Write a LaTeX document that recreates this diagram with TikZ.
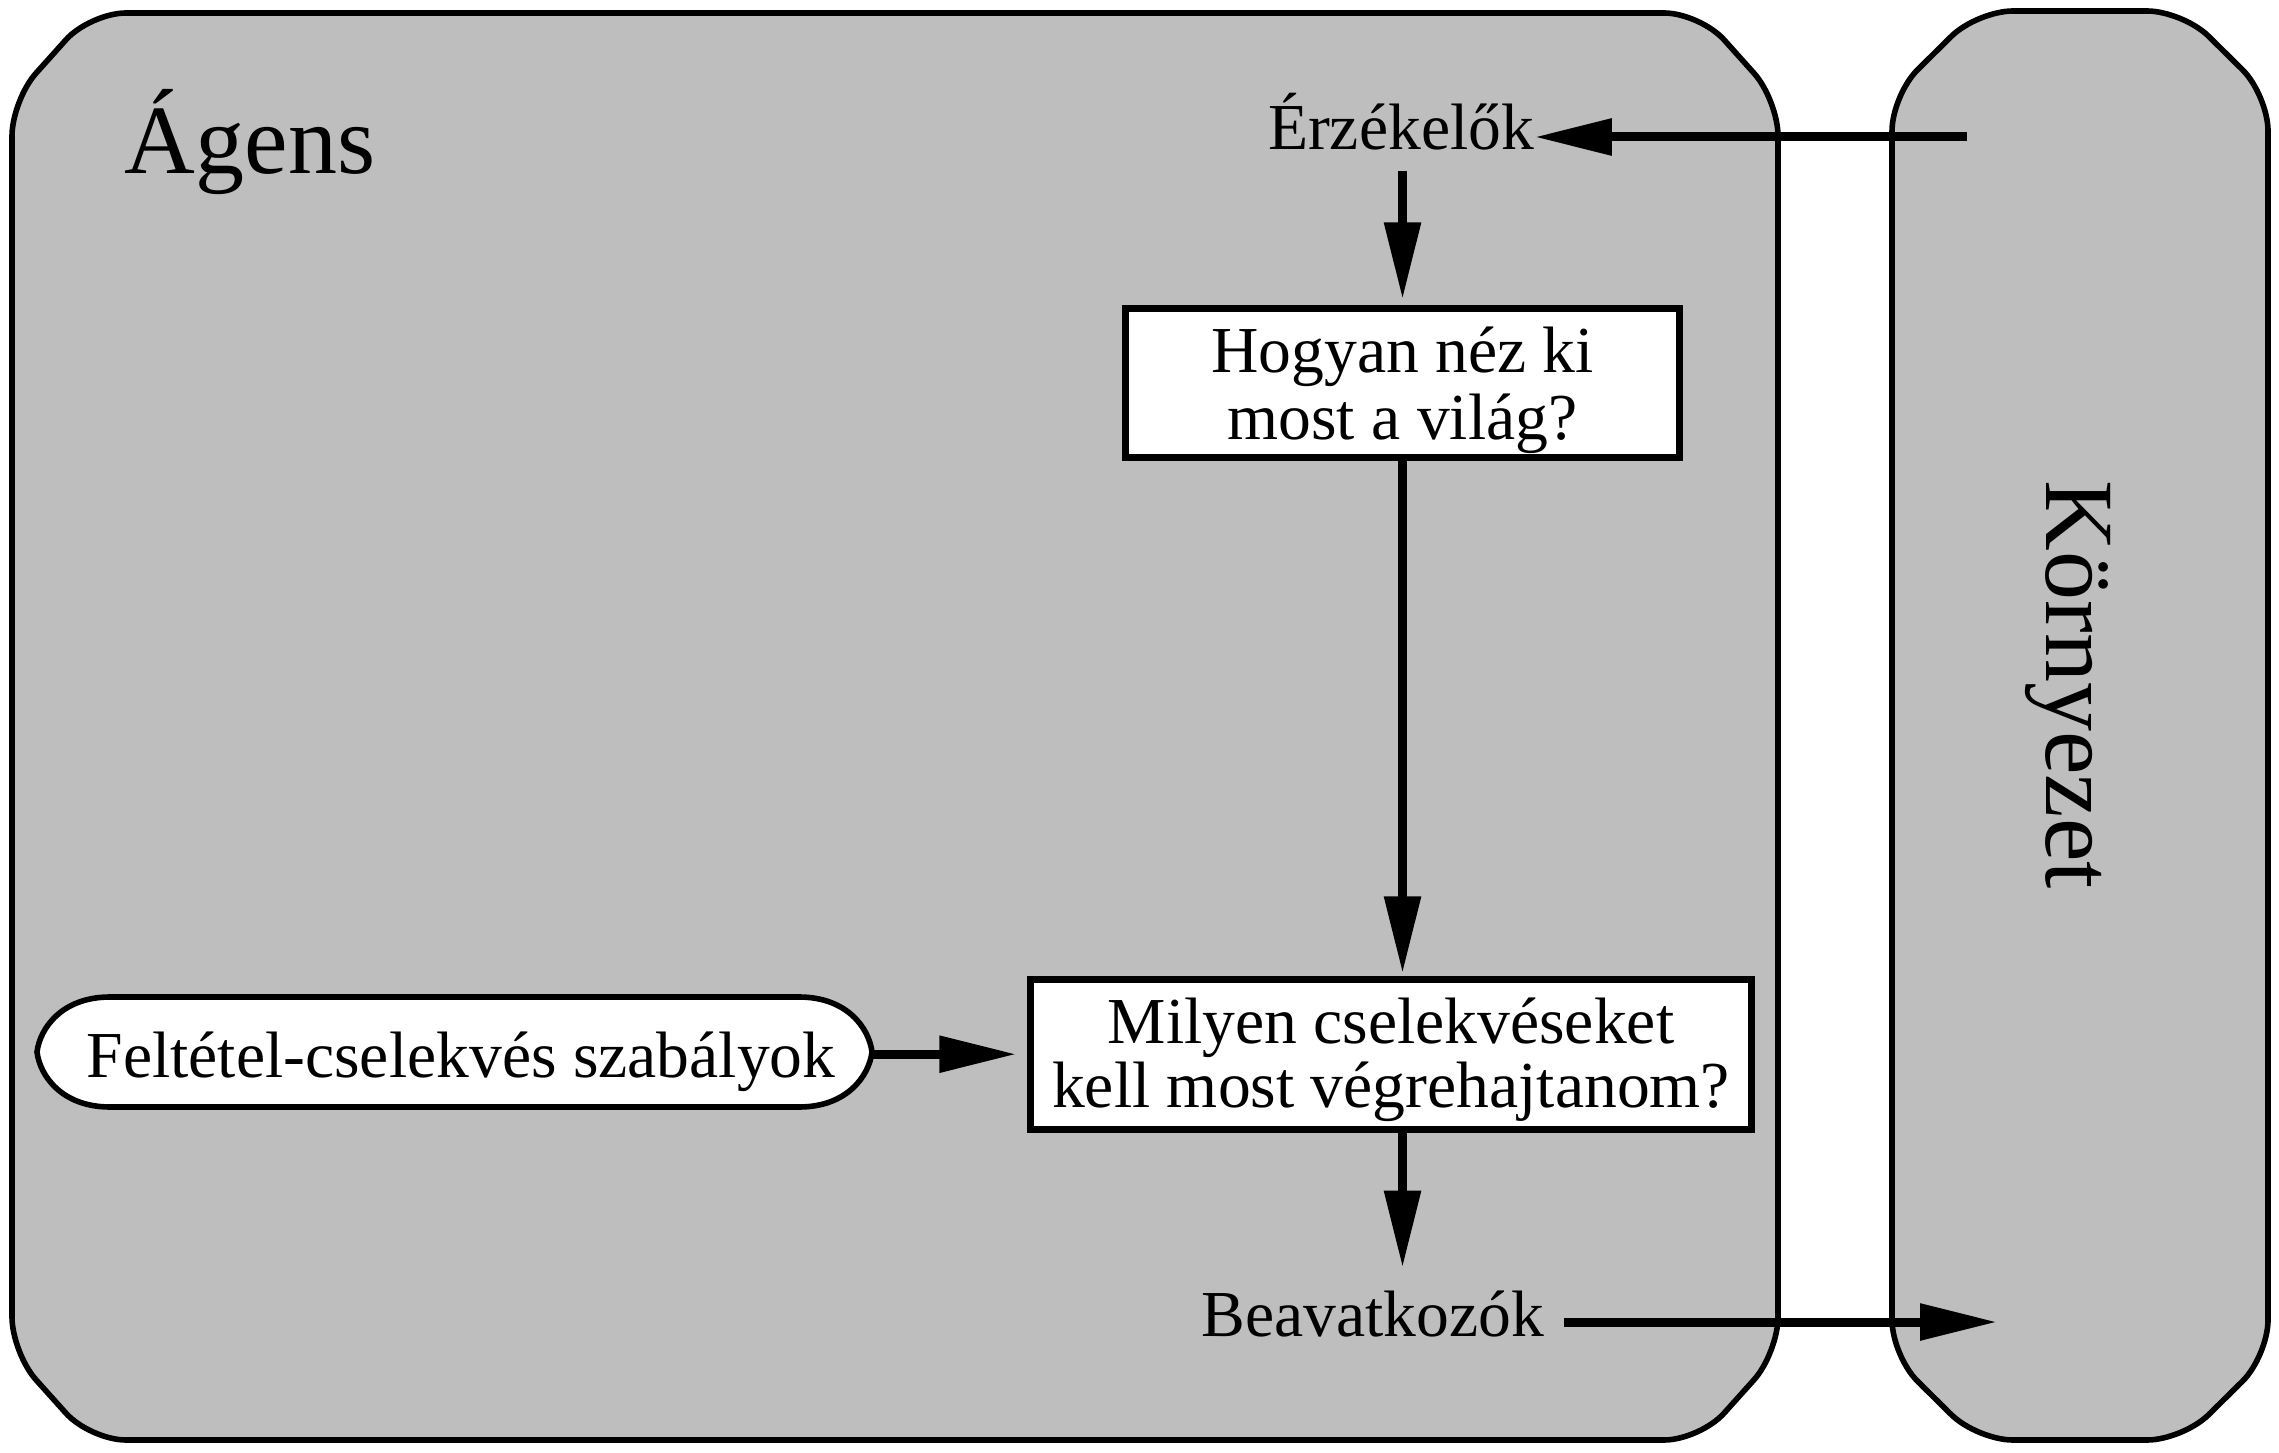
\documentclass[tikz,border=0pt]{standalone}
\usepackage{fontspec}
\setmainfont{Liberation Serif}
\usetikzlibrary{arrows.meta}
\definecolor{panelgray}{RGB}{190,190,190}
\newcommand\bodyfont{\fontsize{16.4pt}{16.75pt}\selectfont}
\newcommand\bigfont{\fontsize{24.5pt}{26pt}\selectfont}
\begin{document}
\begin{tikzpicture}[x=0.25pt,y=-0.25pt,
  panel/.style={draw, line width=1.4pt, fill=panelgray, rounded corners=9pt},
  box/.style={draw, line width=1.6pt, fill=white, inner sep=0pt, align=center, font=\bodyfont},
  lbl/.style={inner sep=0pt, font=\bodyfont},
  conn/.style={line width=2.25pt, -{Triangle[length=19.25pt,width=8.75pt]}}]
\useasboundingbox (0,0) rectangle (2279,1453);
% agent panel
\draw[panel] (12,100) -- (90,13) -- (1700,13) -- (1778,100) -- (1778,1353) -- (1700,1440) -- (90,1440) -- (12,1353) -- cycle;
% environment panel
\draw[panel] (1892,95) -- (1977,11) -- (2183,11) -- (2268,95) -- (2268,1356) -- (2183,1440) -- (1977,1440) -- (1892,1356) -- cycle;
% rules pill shape
\draw[line width=1.4pt, fill=white] (110,997) -- (799,997) .. controls (847,997) and (869,1028) .. (872,1052)
  .. controls (869,1076) and (847,1107) .. (799,1107) -- (110,1107)
  .. controls (62,1107) and (40,1076) .. (37,1052) .. controls (40,1028) and (62,997) .. (110,997) -- cycle;

\node[inner sep=0pt, font=\bigfont, anchor=base west] (agent) at (124,174) {Ágens};
\node[inner sep=0pt, font=\bigfont, anchor=base, rotate=-90] (env) at (2046,685) {Környezet};

\node[lbl, anchor=base] (sens) at (1401,150) {Érzékelők};
\node[box, minimum width=138.5pt, minimum height=37.25pt, text height=32pt, text depth=3.5pt,
      font=\fontsize{16.4pt}{16.75pt}\selectfont] (world) at (1402.5,383) {Hogyan néz ki\\most a világ?};
\node[box, minimum width=180.25pt, minimum height=37.5pt, text height=29.75pt, text depth=3.5pt,
      font=\fontsize{16.4pt}{14.5pt}\selectfont] (action) at (1391,1054.5) {Milyen cselekvéseket\\kell most végrehajtanom?};
\node[lbl, anchor=base, minimum width=205.5pt, text depth=0pt] (rules) at (461,1077) {Feltétel-cselekvés szabályok};
\node[lbl, anchor=base] (act) at (1373,1336) {Beavatkozók};

\coordinate (envout) at (1967,137);
\coordinate (envin) at (1997,1322);

\draw[conn] (envout) -- (sens.east |- envout);
\draw[conn, shorten <=5pt, shorten >=1.5pt] (world.north |- sens.south) -- (world.north);
\draw[conn, shorten >=0.75pt] (world.south) -- (world.south |- action.north);
\draw[conn, shorten >=2.75pt] (rules.east) -- (rules.east -| action.west);
\draw[conn, shorten >=5.5pt] (world.south |- action.south) -- (world.south |- act.north);
\draw[conn, shorten <=4.75pt] (act.east |- envin) -- (envin);
\end{tikzpicture}
\end{document}
